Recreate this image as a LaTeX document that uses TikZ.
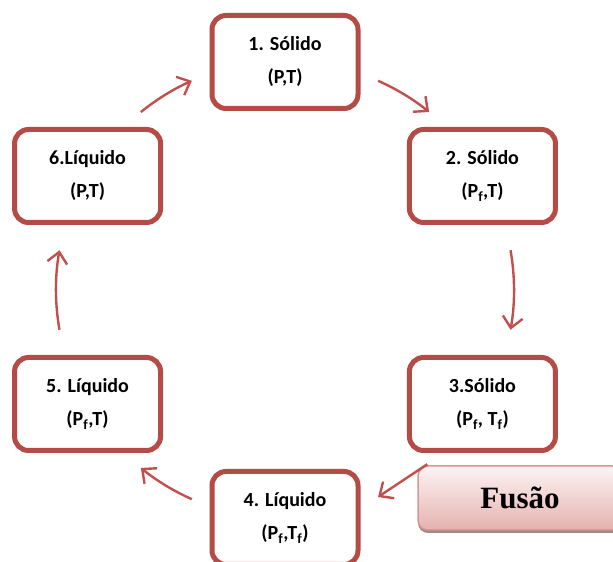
\documentclass[tikz,border=0pt]{standalone}
\usepackage{fontspec}
\setmainfont{Carlito}
\newfontfamily\timesf{Liberation Serif}
\usetikzlibrary{arrows.meta,shadows}
\definecolor{boxred}{RGB}{180,75,71}
\definecolor{arrred}{RGB}{192,80,77}
\definecolor{fusborder}{RGB}{217,150,148}
\definecolor{fustop}{RGB}{253,243,243}
\definecolor{fusbot}{RGB}{229,178,176}
\tikzset{
  statebox/.style={draw=boxred, line width=5pt, rounded corners=14pt, fill=white,
    minimum width=146pt, minimum height=93pt, align=center,
    font=\bfseries\fontsize{20}{33}\selectfont},
  cyc/.style={draw=arrred, line width=2.4pt, -{Straight Barb[length=11pt,width=20pt,line width=2.4pt]}},
  fusbox/.style={draw=fusborder, line width=1.5pt, rounded corners=10pt,
    top color=fustop, bottom color=fusbot, minimum width=204pt, minimum height=64pt,
    font=\timesf\bfseries\fontsize{31}{36}\selectfont,
    drop shadow={shadow xshift=0pt, shadow yshift=-3pt, fill=black!40!fusbot, opacity=0.8}}
}
\begin{document}
\begin{tikzpicture}[x=1pt,y=1pt]
\useasboundingbox (0,0) rectangle (613,562);
\coordinate (C) at (285,272);
\node[statebox] (b1) at ([shift={(90:228)}]C) {1. Sólido\\(P,T)};
\node[statebox] (b2) at ([shift={(30:228)}]C) {2. Sólido\\(P\textsubscript{f},T)};
\node[statebox] (b3) at ([shift={(-30:228)}]C) {3.Sólido\\(P\textsubscript{f}, T\textsubscript{f})};
\node[statebox] (b4) at ([shift={(-90:228)}]C) {4. Líquido\\(P\textsubscript{f},T\textsubscript{f})};
\node[statebox] (b5) at ([shift={(210:228)}]C) {5. Líquido\\(P\textsubscript{f},T)};
\node[statebox] (b6) at ([shift={(150:228)}]C) {6.Líquido\\(P,T)};
\draw[cyc] ([shift={(66:229)}]C) arc[start angle=66, end angle=51, radius=229];
\draw[cyc] ([shift={(10:229)}]C) arc[start angle=10, end angle=-10, radius=229];
\draw[cyc] ([shift={(246:229)}]C) arc[start angle=246, end angle=231, radius=229];
\draw[cyc] ([shift={(190:229)}]C) arc[start angle=190, end angle=170, radius=229];
\draw[cyc] ([shift={(129:229)}]C) arc[start angle=129, end angle=114, radius=229];
\node[fusbox] (fus) at (520,64) {Fusão};
\coordinate (fusend) at (378,65);
\draw[cyc] ([xshift=10pt,yshift=1pt]fus.north west) -- (fusend);
\end{tikzpicture}
\end{document}
